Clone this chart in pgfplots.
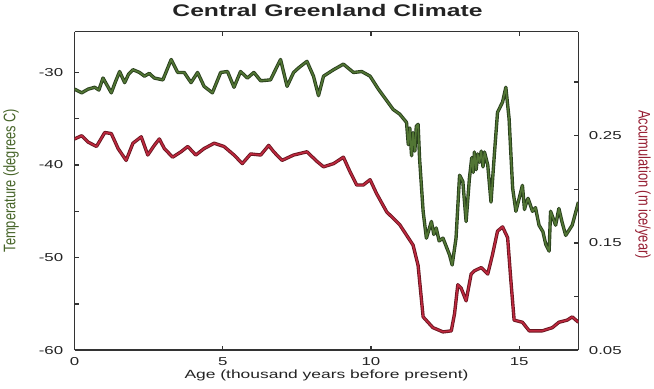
\documentclass[border=0pt]{standalone}
\usepackage{fontspec}
\setmainfont{Liberation Sans}[FakeStretch=1.47]
\newfontfamily\yfont{Liberation Sans}
\usepackage{graphicx}
\usepackage{pgfplots}
\usepackage{pgfplotstable}
\pgfplotsset{compat=1.18}
\definecolor{gOut}{RGB}{40,62,28}
\definecolor{gIn}{RGB}{82,118,52}
\definecolor{rOut}{RGB}{105,22,32}
\definecolor{rIn}{RGB}{190,40,62}
\definecolor{txt}{RGB}{35,35,35}
\definecolor{ylabG}{RGB}{70,100,40}
\definecolor{ylabR}{RGB}{150,30,50}

\pgfplotstableread{
x T
0.00 -31.8
0.24 -32.2
0.46 -31.8
0.68 -31.6
0.82 -31.9
0.96 -30.6
1.10 -31.4
1.24 -32.2
1.38 -31.0
1.52 -29.9
1.69 -31.1
1.82 -30.2
1.97 -29.7
2.19 -30.0
2.36 -30.4
2.52 -30.1
2.69 -30.6
2.98 -30.8
3.26 -28.6
3.48 -30.0
3.70 -30.0
3.93 -31.1
4.15 -30.0
4.37 -31.5
4.65 -32.2
4.93 -30.0
5.16 -29.9
5.38 -31.6
5.60 -29.9
5.83 -30.6
6.05 -30.0
6.28 -30.9
6.61 -30.8
6.95 -28.6
7.17 -31.5
7.39 -30.0
7.56 -29.5
7.84 -28.8
8.06 -30.4
8.23 -32.5
8.40 -30.4
8.74 -29.7
9.07 -29.1
9.41 -30.0
9.69 -29.9
9.97 -30.4
10.25 -31.8
10.50 -32.9
10.75 -34.0
10.97 -34.5
11.20 -35.4
11.26 -37.8
11.31 -36.0
11.37 -39.0
11.42 -36.5
11.48 -38.5
11.53 -35.8
11.59 -35.6
11.64 -39.3
11.76 -45.0
11.87 -47.9
12.04 -46.1
12.12 -47.5
12.20 -46.8
12.30 -48.2
12.43 -47.9
12.65 -49.7
12.74 -50.8
12.87 -47.9
12.99 -41.1
13.10 -41.8
13.21 -46.1
13.32 -41.5
13.40 -39.2
13.45 -40.8
13.49 -38.6
13.55 -40.5
13.60 -38.8
13.66 -39.7
13.72 -38.5
13.78 -40.2
13.83 -38.6
13.94 -40.0
14.05 -44.0
14.16 -39.0
14.27 -34.3
14.44 -33.2
14.55 -31.6
14.66 -35.0
14.78 -42.5
14.89 -45.0
15.11 -42.2
15.18 -44.8
15.22 -44.3
15.30 -43.6
15.45 -45.0
15.55 -44.6
15.67 -46.5
15.80 -47.2
15.90 -48.6
16.01 -49.3
16.06 -45.0
16.23 -46.5
16.34 -44.7
16.45 -46.2
16.57 -47.6
16.79 -46.5
17.00 -44.0
}\tempdata

\pgfplotstableread{
x A
0.00 0.247
0.24 0.250
0.46 0.244
0.74 0.240
1.02 0.253
1.24 0.252
1.47 0.238
1.74 0.227
1.97 0.243
2.25 0.249
2.47 0.232
2.69 0.241
2.86 0.247
3.03 0.238
3.31 0.230
3.59 0.235
3.82 0.240
4.09 0.232
4.37 0.238
4.71 0.243
5.04 0.240
5.38 0.232
5.66 0.224
5.94 0.233
6.28 0.232
6.55 0.241
6.72 0.235
7.00 0.227
7.39 0.232
7.84 0.235
8.18 0.226
8.40 0.221
8.74 0.224
9.07 0.230
9.30 0.216
9.52 0.204
9.74 0.204
9.97 0.209
10.19 0.196
10.53 0.179
10.97 0.167
11.42 0.148
11.59 0.129
11.76 0.081
12.09 0.071
12.43 0.067
12.71 0.068
12.82 0.084
12.93 0.111
13.04 0.108
13.21 0.096
13.38 0.121
13.49 0.124
13.72 0.127
13.83 0.124
13.94 0.121
14.10 0.139
14.27 0.161
14.44 0.165
14.61 0.155
14.72 0.115
14.83 0.078
15.11 0.076
15.34 0.068
15.78 0.068
16.12 0.071
16.34 0.076
16.62 0.078
16.79 0.081
17.00 0.076
}\accdata

\pgfplotsset{
  base/.style={
    width=508bp, height=321bp, scale only axis,
    at={(0,0)}, anchor=south west,
    xmin=0, xmax=17,
    tick align=inside,
    major tick length=4bp, minor tick length=4bp,
    axis line style={line width=1.3bp, black!80},
    every tick/.style={line width=1.3bp, black!80},
    ticklabel style={font=\fontsize{11.6}{12}\selectfont, text=txt},
    /pgf/number format/assume math mode=true,
  }
}

\begin{document}
\begin{tikzpicture}
\begin{axis}[base,
  ymin=-60, ymax=-25.6,
  axis y line*=left,
  ytick={-60,-50,-40,-30}, minor ytick={-55,-45,-35},
  xtick={0,5,10,15},
  yticklabel style={xshift=-8bp},
  xticklabel style={yshift=-4bp},
]
\addplot[gOut, line width=3.4bp, line join=round] table[x=x,y=T] {\tempdata};
\addplot[gIn, line width=1.6bp, line join=round] table[x=x,y=T] {\tempdata};
\end{axis}
\begin{axis}[base,
  ymin=0.05, ymax=0.347,
  axis y line*=right, axis x line=none,
  ytick={0.05,0.15,0.25}, minor ytick={0.1,0.2,0.3},
  yticklabel style={/pgf/number format/.cd, fixed, fixed zerofill, precision=2, /tikz/.cd, xshift=7bp},
]
\addplot[rOut, line width=3.4bp, line join=round] table[x=x,y=A] {\accdata};
\addplot[rIn, line width=1.6bp, line join=round] table[x=x,y=A] {\accdata};
\end{axis}
\node[font=\bfseries\fontsize{17}{17}\selectfont, text=txt] at (255bp,342bp) {Central Greenland Climate};
\node[font=\fontsize{12}{12}\selectfont, text=txt] at (254bp,-25bp) {Age (thousand years before present)};
\node[rotate=90, text=ylabG, font=\yfont\fontsize{13}{13}\selectfont] at (-64bp,171bp) {\scalebox{1}[1.3]{Temperature (degrees C)}};
\node[rotate=-90, text=ylabR, font=\yfont\fontsize{13}{13}\selectfont] at (573bp,167bp) {\scalebox{1}[1.3]{Accumulation (m ice/year)}};
\path (-72bp,-39bp) rectangle (582bp,353bp);
\end{tikzpicture}
\end{document}
